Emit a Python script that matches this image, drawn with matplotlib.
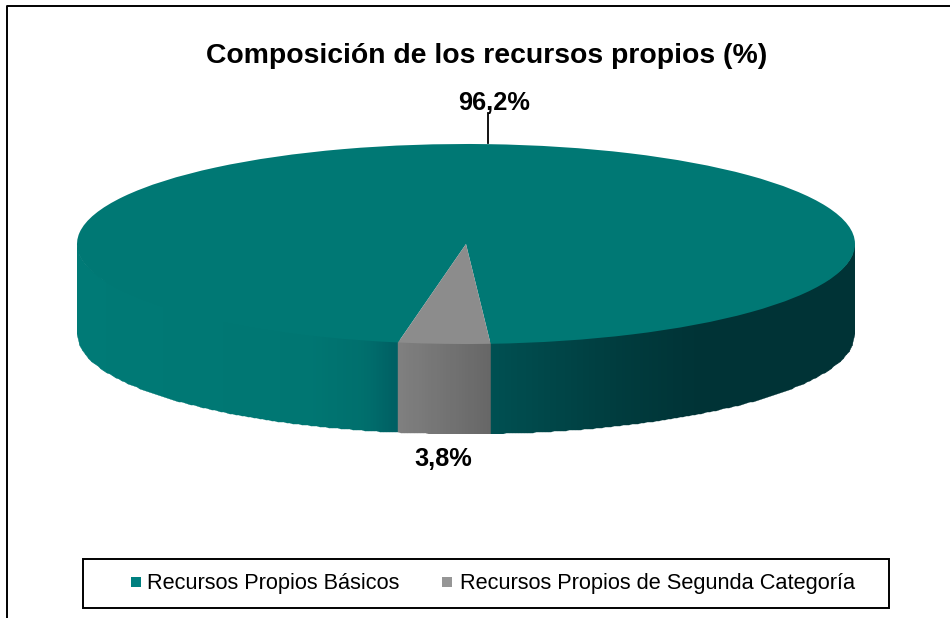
#!/usr/bin/env python3
import numpy as np
import matplotlib
matplotlib.use("Agg")
import matplotlib.pyplot as plt
from matplotlib.colors import LinearSegmentedColormap
from matplotlib.patches import Rectangle

# Data
categories = ["Recursos Propios Básicos", "Recursos Propios de Segunda Categoría"]
values = [96.2, 3.8]
value_labels = ["96,2%", "3,8%"]
title = "Composición de los recursos propios (%)"

# Style
top_colors = ["#007874", "#8c8c8c"]
legend_colors = ["#008080", "#969696"]
W, H = 950, 618
CX, CY = 466, 244      # centre of the pie top, px
RX, RY = 389, 100      # radii of the pie top, px
DEPTH = 90             # height of the pie wall, px

# wall shading, left to right across the pie (0 = left edge, 1 = right edge)
teal_wall = LinearSegmentedColormap.from_list("teal", [
    (0.0, "#007a76"), (0.30, "#007672"), (0.37, "#006f6d"), (0.41, "#006064"),
    (0.53, "#005052"), (0.70, "#003c3e"), (0.80, "#003336"), (1.0, "#003336")])
grey_wall = LinearSegmentedColormap.from_list("grey", [
    (0.0, "#808080"), (1.0, "#676767")])

fig = plt.figure(figsize=(W / 100, H / 100), dpi=100)
bg = fig.add_axes([0, 0, 1, 1])
bg.set_xlim(0, W)
bg.set_ylim(H, 0)
bg.axis("off")

# chart frame, cut off by the picture on the right and at the bottom
bg.plot([7, 7, W], [H, 6, 6], color="black", lw=1.4)

# pie: unit circle squashed into the ellipse by the axes box
ax = fig.add_axes([(CX - RX) / W, 1 - (CY + RY + DEPTH) / H,
                   2 * RX / W, (2 * RY + DEPTH) / H])
grey_span = values[1] / sum(values) * 360
start = 270 - grey_span * 0.735
ax.pie(values, colors=top_colors, startangle=start + grey_span,
       radius=1, wedgeprops=dict(lw=0))
ax.set_aspect("auto")
ax.set_xlim(-1, 1)
depth = DEPTH / RY
ax.set_ylim(-1 - depth, 1)
ax.axis("off")

# wall: front half of the rim, split where the slices meet
edge_l, edge_r = np.cos(np.radians(start)), np.cos(np.radians(start + grey_span))


def wall(x0, x1, cmap, local=False):
    x = np.linspace(x0, x1, max(2, int((x1 - x0) * RX / 3) + 1))
    rim = -np.sqrt(np.clip(1 - x ** 2, 0, 1))
    xs = np.vstack([x, x])
    # the top of the wall runs a little under the pie top, so no seam shows
    ys = np.vstack([rim - depth, rim * 0.97])
    pos = (x[:-1] + x[1:]) / 2
    shade = (pos - x0) / (x1 - x0) if local else (pos + 1) / 2
    ax.pcolormesh(xs, ys, shade[None, :], cmap=cmap, vmin=0, vmax=1, zorder=0.5,
                  shading="flat", antialiased=True, edgecolor="face", lw=0.3)


wall(-1, edge_l, teal_wall)
wall(edge_l, edge_r, grey_wall, local=True)
wall(edge_r, 1, teal_wall)

# text
bg.text(487, 56, title, ha="center", va="center", fontsize=20.4,
        fontweight="bold", family="Liberation Sans")
bg.text(494, 103, value_labels[0], ha="center", va="center", fontsize=18.3,
        fontweight="bold", family="Liberation Sans")
bg.text(443, 459, value_labels[1], ha="center", va="center", fontsize=18.3,
        fontweight="bold", family="Liberation Sans")
bg.plot([488, 488], [113, 143], color="black", lw=1.3)

# legend
bg.add_patch(Rectangle((83, 559), 806, 49, fc="white", ec="black", lw=1.4))
for x, tx, col, name in zip([131, 442], [147, 460], legend_colors, categories):
    bg.add_patch(Rectangle((x, 577), 10, 10, fc=col, ec="none"))
    bg.text(tx, 583, name, ha="left", va="center", fontsize=15.7,
            family="Liberation Sans")

fig.savefig("out.png", dpi=100)
